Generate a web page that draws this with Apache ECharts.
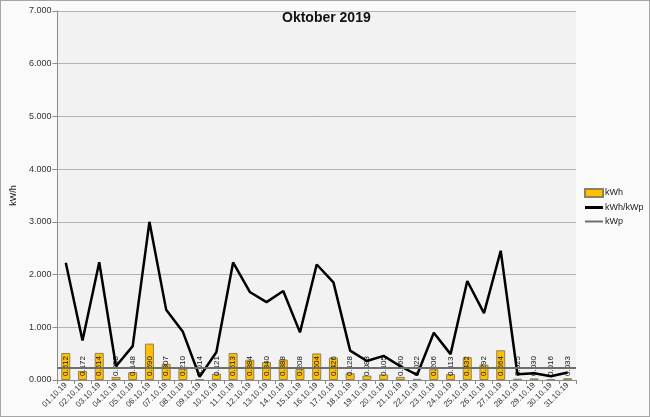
<!DOCTYPE html>
<html>
<head>
<meta charset="utf-8">
<script src="https://cdn.jsdelivr.net/npm/echarts@6/dist/echarts.min.js"></script>
<style>
html,body{margin:0;padding:0;background:#fafafa;}
#c{width:650px;height:417px;box-sizing:border-box;border:1px solid #a6a6a6;}
</style>
</head>
<body>
<div id="c"></div>
<script>
const categories = ["01.10.19","02.10.19","03.10.19","04.10.19","05.10.19","06.10.19","07.10.19","08.10.19","09.10.19","10.10.19","11.10.19","12.10.19","13.10.19","14.10.19","15.10.19","16.10.19","17.10.19","18.10.19","19.10.19","20.10.19","21.10.19","22.10.19","23.10.19","24.10.19","25.10.19","26.10.19","27.10.19","28.10.19","29.10.19","30.10.19","31.10.19"];
const kWh = [0.512,0.172,0.514,0.058,0.148,0.690,0.307,0.210,0.014,0.121,0.513,0.384,0.340,0.388,0.208,0.504,0.426,0.128,0.083,0.105,0.060,0.022,0.206,0.113,0.432,0.292,0.564,0.025,0.030,0.016,0.033];
const kWhPerKWp = [2.226,0.748,2.235,0.26,0.643,3.0,1.335,0.913,0.061,0.526,2.230,1.670,1.478,1.687,0.904,2.191,1.852,0.557,0.361,0.457,0.261,0.096,0.896,0.491,1.878,1.270,2.452,0.109,0.130,0.070,0.143];
const kWp = [0.23,0.23,0.23,0.23,0.23,0.23,0.23,0.23,0.23,0.23,0.23,0.23,0.23,0.23,0.23,0.23,0.23,0.23,0.23,0.23,0.23,0.23,0.23,0.23,0.23,0.23,0.23,0.23,0.23,0.23,0.23];

const chart = echarts.init(document.getElementById('c'));
const FONT = 'Liberation Sans';
const lineIconThick = 'path://M0,0h18v3h-18z';
const lineIconThin = 'path://M0,0h18v2h-18z';
chart.setOption({
  animation:false,
  backgroundColor:'#fafafa',
  textStyle:{fontFamily:FONT},
  title:{text:'Oktober 2019',left:276,top:5,textStyle:{fontSize:14,fontWeight:'bold',color:'#111',fontFamily:FONT}},
  legend:{
    orient:'vertical',left:578,top:182,itemGap:5,itemWidth:18,itemHeight:8,
    textStyle:{fontSize:9,color:'#222',padding:[0,0,0,-3]},
    data:[{name:'kWh',icon:'rect'},{name:'kWh/kWp',icon:lineIconThick},{name:'kWp',icon:lineIconThin}]
  },
  grid:{left:53,top:10,right:73,bottom:36,show:true,backgroundColor:'#f2f2f2',borderWidth:0},
  xAxis:{
    type:'category',data:categories,
    axisLine:{lineStyle:{color:'#8c8c8c'}},
    axisTick:{show:true,length:4,lineStyle:{color:'#8c8c8c'}},
    axisLabel:{rotate:45,interval:0,fontSize:8,color:'#333',margin:4}
  },
  yAxis:{
    type:'value',min:0,max:7,interval:1,
    name:'kW/h',nameLocation:'middle',nameGap:34,nameTextStyle:{fontSize:9,color:'#222'},
    axisLine:{show:true,lineStyle:{color:'#8c8c8c'}},
    axisTick:{show:true,length:5,lineStyle:{color:'#8c8c8c'}},
    axisLabel:{fontSize:9,color:'#333',margin:6,formatter:v=>v.toFixed(3)},
    splitLine:{lineStyle:{color:'#b3b3b3'}}
  },
  series:[
    {
      name:'kWh',type:'bar',data:kWh,barWidth:9,
      itemStyle:{color:'#ffc000',borderColor:'#8f8060',borderWidth:1},
      label:{show:true,position:'insideBottom',rotate:90,align:'left',verticalAlign:'middle',distance:4,
        fontSize:8,color:'#111',formatter:p=>p.value.toFixed(3)},
      z:2
    },
    {
      name:'kWh/kWp',type:'line',data:kWhPerKWp,symbol:'none',
      lineStyle:{color:'#000',width:2.5},itemStyle:{color:'#000'},z:4
    },
    {
      name:'kWp',type:'line',data:kWp,symbol:'none',
      lineStyle:{color:'#6e6e6e',width:2},itemStyle:{color:'#6e6e6e'},z:3,
      markLine:{silent:true,symbol:'none',label:{show:false},lineStyle:{color:'#6e6e6e',width:2,type:'solid'},
        data:[{yAxis:kWp[0]}]}
    }
  ]
});
</script>
</body>
</html>
